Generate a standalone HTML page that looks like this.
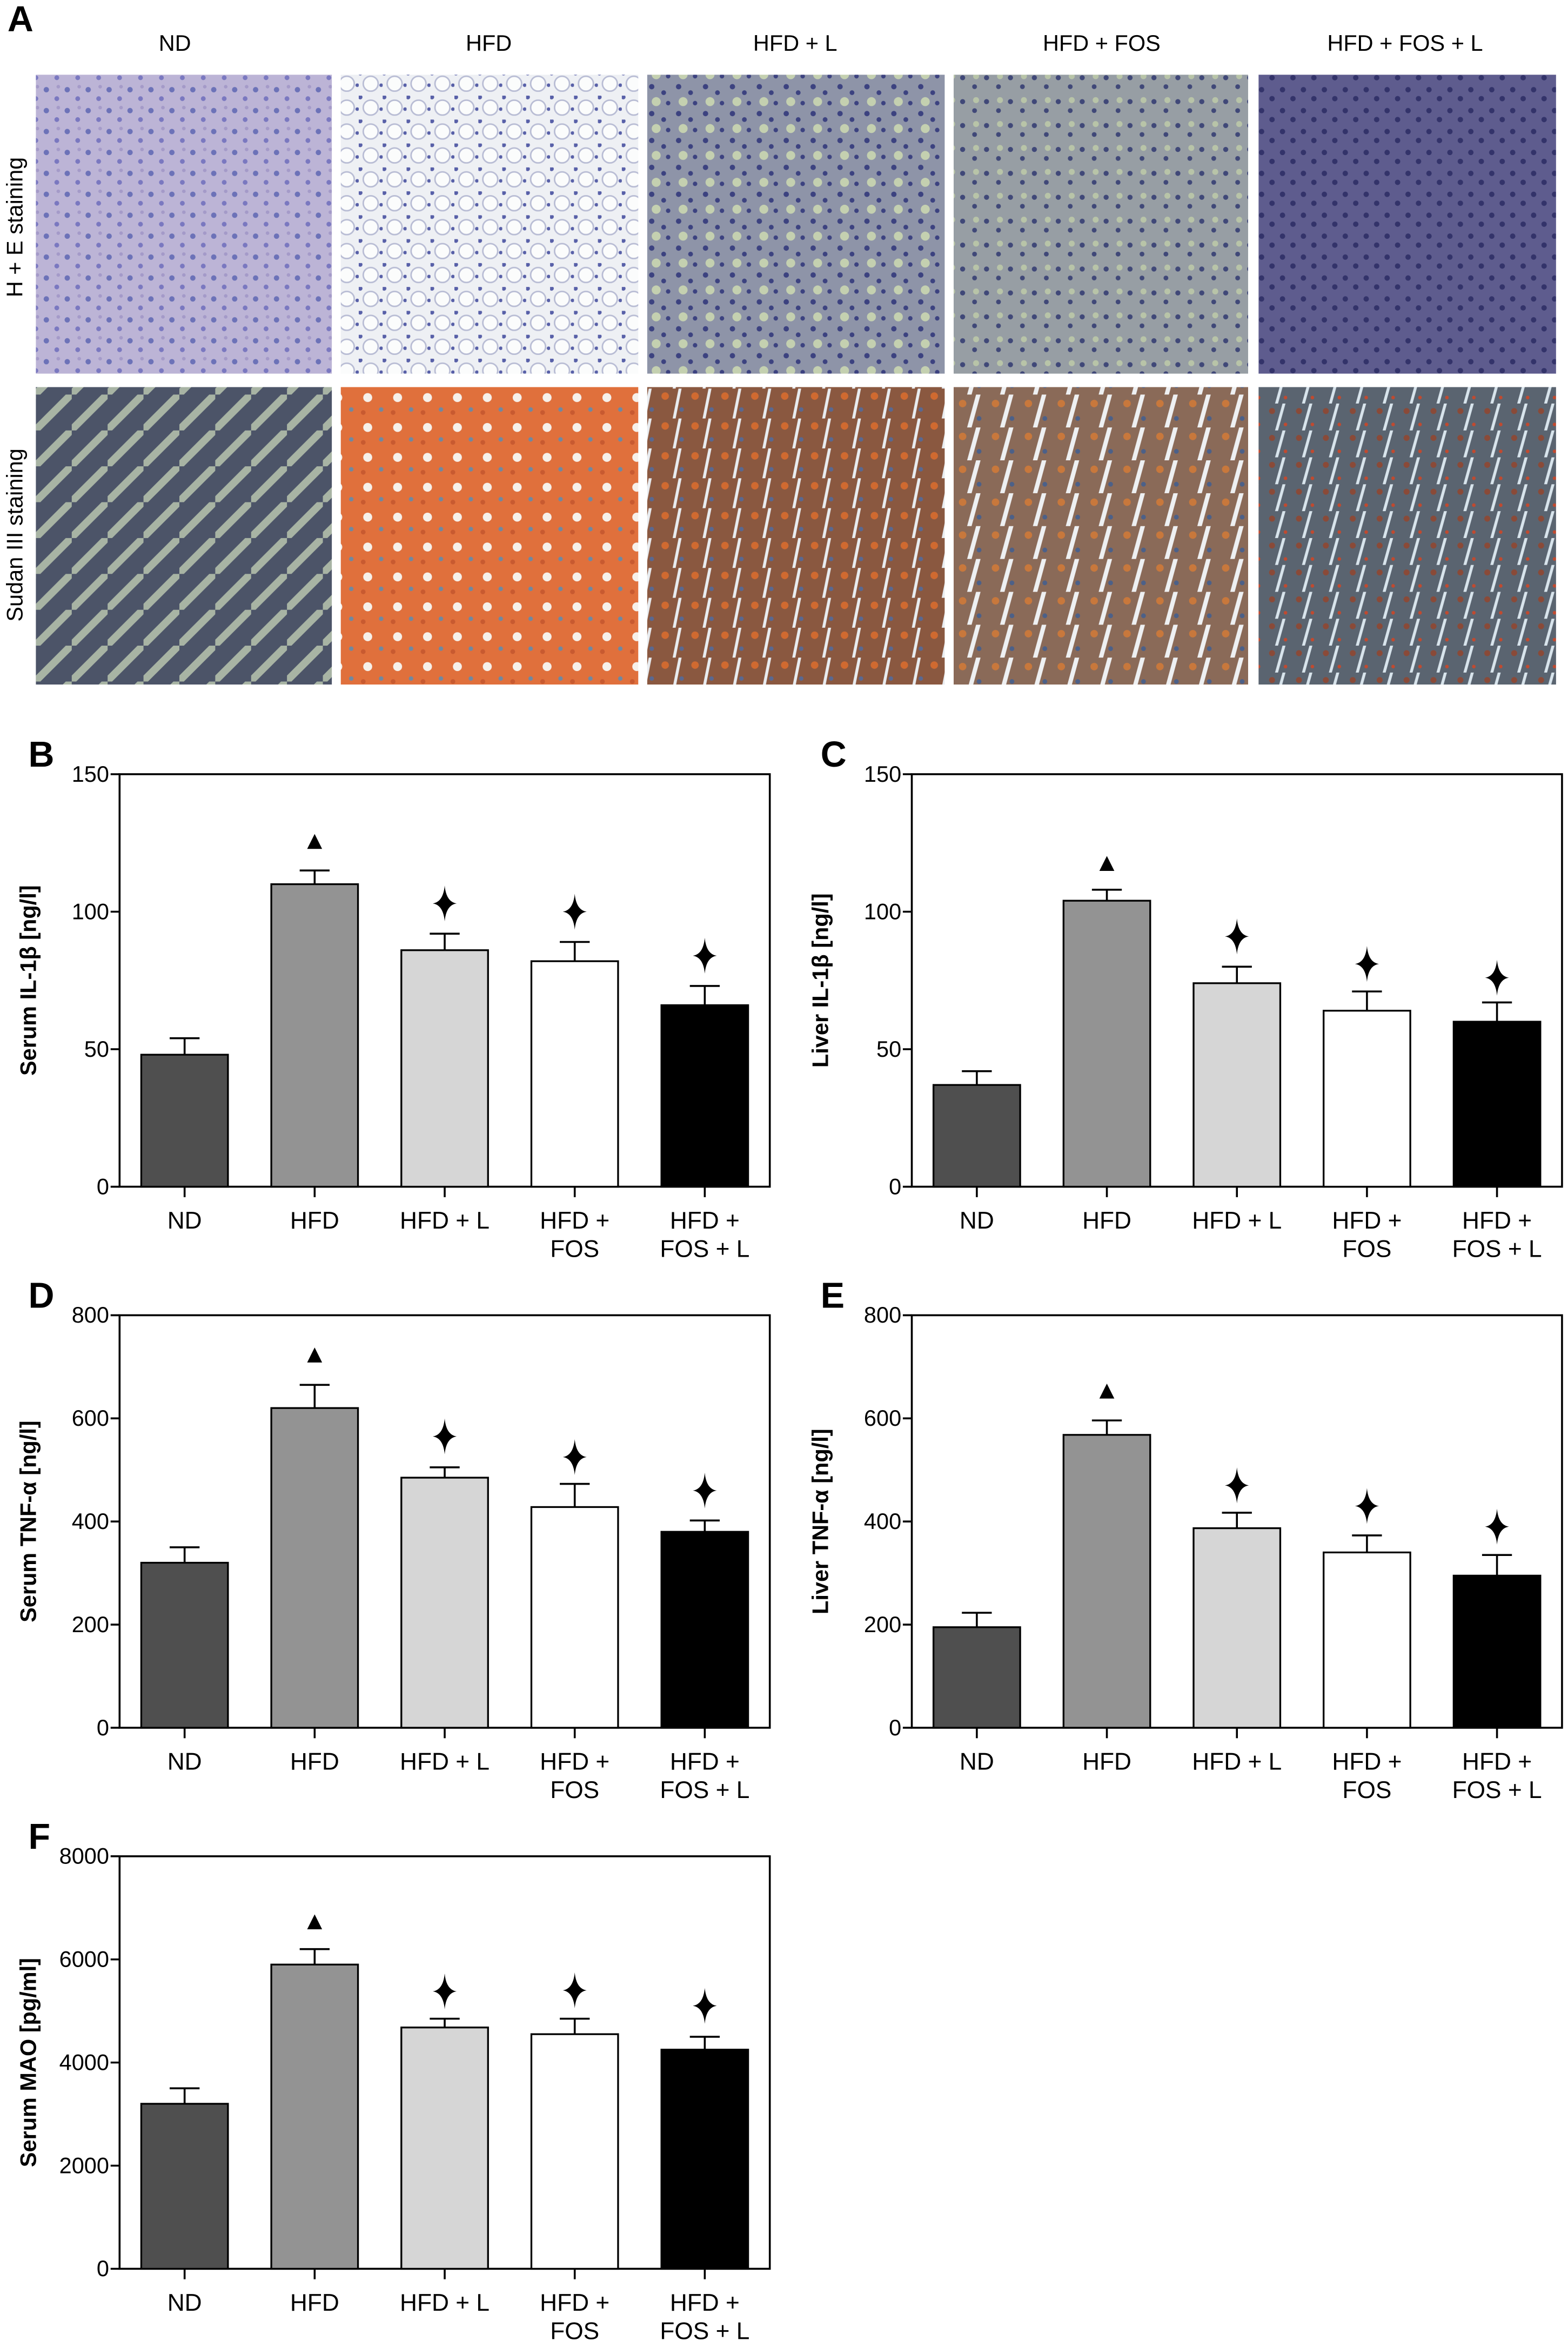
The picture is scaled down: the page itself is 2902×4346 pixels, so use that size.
<!DOCTYPE html>
<html><head><meta charset="utf-8">
<style>
html,body{margin:0;padding:0;background:#fff;}
svg{display:block;}
text{font-family:"Liberation Sans",sans-serif;}
</style></head>
<body>
<svg id="fig" width="2902" height="4346" viewBox="0 0 1049 1571" preserveAspectRatio="none" xmlns="http://www.w3.org/2000/svg">
<defs>
<pattern id="pHE1" width="14" height="14" patternUnits="userSpaceOnUse"><rect width="14" height="14" fill="#bcb4d6"/><circle cx="3" cy="4" r="1.8" fill="#6c72b8"/><circle cx="10" cy="10" r="1.6" fill="#7a78c0"/><circle cx="11" cy="2" r="1.2" fill="#a49ac8"/></pattern>
<pattern id="pHE2" width="16" height="16" patternUnits="userSpaceOnUse"><rect width="16" height="16" fill="#eef0f4"/><circle cx="8" cy="8" r="5" fill="#fbfcfc" stroke="#b8bcd4" stroke-width="1"/><circle cx="1" cy="1" r="1.5" fill="#5860a8"/><circle cx="15" cy="9" r="1.2" fill="#5860a8"/></pattern>
<pattern id="pHE3" width="18" height="18" patternUnits="userSpaceOnUse"><rect width="18" height="18" fill="#8e94a8"/><circle cx="4" cy="4" r="1.8" fill="#3c4280"/><circle cx="12" cy="8" r="1.6" fill="#3c4280"/><circle cx="7" cy="14" r="3" fill="#c4d0b0"/><circle cx="15" cy="15" r="1.5" fill="#3c4280"/></pattern>
<pattern id="pHE4" width="16" height="16" patternUnits="userSpaceOnUse"><rect width="16" height="16" fill="#979ea4"/><circle cx="4" cy="4" r="1.7" fill="#404878"/><circle cx="12" cy="10" r="1.6" fill="#404878"/><circle cx="13" cy="3" r="2" fill="#b8c4a8"/></pattern>
<pattern id="pHE5" width="14" height="14" patternUnits="userSpaceOnUse"><rect width="14" height="14" fill="#5e5c8e"/><circle cx="4" cy="4" r="1.8" fill="#33336a"/><circle cx="11" cy="10" r="1.8" fill="#33336a"/></pattern>
<pattern id="pS1" width="24" height="24" patternUnits="userSpaceOnUse"><rect width="24" height="24" fill="#4c5468"/><path d="M0 20 L20 0 L24 0 L24 3 L3 24 L0 24Z" fill="#a8b4a4"/></pattern>
<pattern id="pS2" width="20" height="20" patternUnits="userSpaceOnUse"><rect width="20" height="20" fill="#e0703c"/><circle cx="6" cy="6" r="3" fill="#f6f0ea"/><circle cx="15" cy="14" r="1.5" fill="#7088a0"/><circle cx="3" cy="16" r="1.6" fill="#c85a30"/></pattern>
<pattern id="pS3" width="20" height="20" patternUnits="userSpaceOnUse"><rect width="20" height="20" fill="#8a5840"/><circle cx="5" cy="5" r="2.5" fill="#d06a30"/><path d="M14 0 L16 0 L12 20 L10 20Z" fill="#e8ecf0"/><circle cx="16" cy="14" r="1.5" fill="#5a6890"/></pattern>
<pattern id="pS4" width="22" height="22" patternUnits="userSpaceOnUse"><rect width="22" height="22" fill="#8a6a58"/><circle cx="6" cy="6" r="2.5" fill="#c8783c"/><path d="M15 0 L18 0 L12 22 L9 22Z" fill="#eef0f2"/><circle cx="17" cy="16" r="1.6" fill="#4c6088"/></pattern>
<pattern id="pS5" width="18" height="18" patternUnits="userSpaceOnUse"><rect width="18" height="18" fill="#5a6470"/><circle cx="5" cy="5" r="2" fill="#8a4a38"/><path d="M12 0 L14 0 L9 18 L7 18Z" fill="#d8e4ec"/><circle cx="14" cy="14" r="1.2" fill="#c04a30"/></pattern>
</defs>
<g id="panelA">
<text x="5" y="21" font-size="24" font-weight="bold">A</text>
<text x="117" y="34" font-size="15" text-anchor="middle">ND</text>
<text x="327" y="34" font-size="15" text-anchor="middle">HFD</text>
<text x="532" y="34" font-size="15" text-anchor="middle">HFD + L</text>
<text x="737" y="34" font-size="15" text-anchor="middle">HFD + FOS</text>
<text x="940" y="34" font-size="15" text-anchor="middle">HFD + FOS + L</text>
<text transform="translate(15,152) rotate(-90)" font-size="15" text-anchor="middle">H + E staining</text>
<text transform="translate(15,358) rotate(-90)" font-size="15" text-anchor="middle">Sudan III staining</text>
<rect x="24" y="50" width="198" height="200" fill="url(#pHE1)"/>
<rect x="228" y="50" width="199" height="200" fill="url(#pHE2)"/>
<rect x="433" y="50" width="199" height="200" fill="url(#pHE3)"/>
<rect x="638" y="50" width="197" height="200" fill="url(#pHE4)"/>
<rect x="842" y="50" width="199" height="200" fill="url(#pHE5)"/>
<rect x="24" y="259" width="198" height="199" fill="url(#pS1)"/>
<rect x="228" y="259" width="199" height="199" fill="url(#pS2)"/>
<rect x="433" y="259" width="199" height="199" fill="url(#pS3)"/>
<rect x="638" y="259" width="197" height="199" fill="url(#pS4)"/>
<rect x="842" y="259" width="199" height="199" fill="url(#pS5)"/>
</g>
</svg>
<script>
const categories = [["ND"],["HFD"],["HFD + L"],["HFD +","FOS"],["HFD +","FOS + L"]];
const colors = ["#4f4f4f","#939393","#d6d6d6","#ffffff","#000000"];
const valsB = [48,110,86,82,66];   const errB = [6,5,6,7,7];   const markB = [125,103,100,84];
const valsC = [37,104,74,64,60];   const errC = [5,4,6,7,7];   const markC = [117,91,81,76];
const valsD = [320,620,485,428,380]; const errD = [30,45,20,45,22]; const markD = [720,565,525,460];
const valsE = [195,568,387,340,295]; const errE = [28,28,30,33,40]; const markE = [650,470,430,390];
const valsF = [3200,5900,4680,4550,4250]; const errF = [300,300,170,300,250]; const markF = [6700,5380,5400,5100];
const ticksB = [0,50,100,150]; const ticksD = [0,200,400,600,800]; const ticksF = [0,2000,4000,6000,8000];

const NS="http://www.w3.org/2000/svg";
const svg=document.getElementById('fig');
function mk(tag,attrs,parent){const e=document.createElementNS(NS,tag);for(const k in attrs)e.setAttribute(k,attrs[k]);parent.appendChild(e);return e;}

function chart(o){
  const g=mk('g',{},svg);
  
  
  const L=o.x, R=o.x+435, T=o.y, B=o.y+276, max=o.ticks[o.ticks.length-1];
  const yS=v=>B-(v/max)*(B-T);
  const step=(R-L)/5;
  const xC=i=>L+step*(i+0.5);
  const lab=mk('text',{x:L-61,y:T-5,'font-size':24,'font-weight':'bold'},g);lab.textContent=o.id.toUpperCase();
  
  
  const box=mk('rect',{x:L,y:T,width:R-L,height:B-T,fill:'none',stroke:'#000','stroke-width':1.3},g);
  
  
  o.ticks.forEach(t=>{
    const y=yS(t);
    const tl=mk('line',{x1:L-6,x2:L,y1:y,y2:y,stroke:'#000','stroke-width':1.3},g);
    
    
    const tx=mk('text',{x:L-7,y:y+5,'font-size':15,'text-anchor':'end'},g);tx.textContent=t;
    
    
  });
  const yt=mk('text',{transform:`translate(${L-56},${(T+B)/2}) rotate(-90)`,'font-size':15,'font-weight':'bold','text-anchor':'middle'},g);
  yt.textContent=o.title;
  
  
  o.vals.forEach((v,i)=>{
    const cx=xC(i), w=58;
    const e=o.err[i];
    const el=mk('path',{d:`M${cx} ${yS(v)} V${yS(v+e)} M${cx-10} ${yS(v+e)} H${cx+10}`,stroke:'#000','stroke-width':1.3,fill:'none'},g);
    
    
    const r=mk('rect',{x:cx-w/2,y:yS(v),width:w,height:B-yS(v),fill:colors[i],stroke:'#000','stroke-width':1.2},g);
    
    
    const xt=mk('line',{x1:cx,x2:cx,y1:B,y2:B+7,stroke:'#000','stroke-width':1.3},g);
    
    
    categories[i].forEach((s,j)=>{
      const t=mk('text',{x:cx,y:B+28+j*19,'font-size':16,'text-anchor':'middle'},g);t.textContent=s;
      
      
    });
  });
  o.mark.forEach((m,k)=>{
    const cx=xC(k+1), y=yS(m);
    let p;
    if(k===0){p=mk('path',{d:`M${cx} ${y-6} L${cx+5} ${y+4} L${cx-5} ${y+4}Z`,fill:'#000'},g);
      }
    else{p=mk('path',{d:`M${cx} ${y-12} Q${cx+1} ${y-1} ${cx+8} ${y} Q${cx+1} ${y+1} ${cx} ${y+12} Q${cx-1} ${y+1} ${cx-8} ${y} Q${cx-1} ${y-1} ${cx} ${y-12}Z`,fill:'#000'},g);
      }
    
  });
}
chart({id:'b',x:80,y:518,ticks:ticksB,vals:valsB,err:errB,mark:markB,title:'Serum IL-1β [ng/l]'});
chart({id:'c',x:610,y:518,ticks:ticksB,vals:valsC,err:errC,mark:markC,title:'Liver IL-1β [ng/l]'});
chart({id:'d',x:80,y:880,ticks:ticksD,vals:valsD,err:errD,mark:markD,title:'Serum TNF-α [ng/l]'});
chart({id:'e',x:610,y:880,ticks:ticksD,vals:valsE,err:errE,mark:markE,title:'Liver TNF-α [ng/l]'});
chart({id:'f',x:80,y:1242,ticks:ticksF,vals:valsF,err:errF,mark:markF,title:'Serum MAO [pg/ml]'});
</script>
</body></html>
